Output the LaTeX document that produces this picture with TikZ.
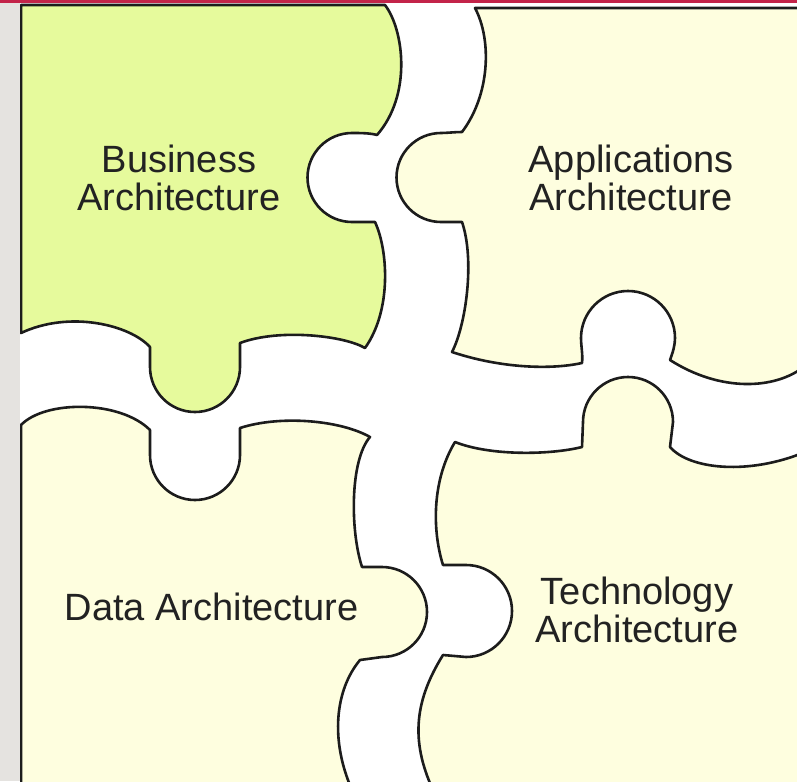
\documentclass[tikz,border=0pt]{standalone}
\usepackage{fontspec}
\setmainfont{Liberation Sans}
\definecolor{bizgreen}{HTML}{E6FA9C}
\definecolor{cream}{HTML}{FEFEDF}
\definecolor{stripgrey}{HTML}{E5E3E0}
\definecolor{topred}{HTML}{C32349}
\definecolor{edgecol}{HTML}{1C1C1C}
\definecolor{textgrey}{HTML}{222222}
\begin{document}
\begin{tikzpicture}[x=1pt,y=1pt,yscale=-1,
  piece/.style={draw=edgecol, line width=2.6pt, line join=round},
  piecetext/.style={font=\fontsize{38}{38}\selectfont, text=textgrey, align=center, inner sep=0pt}]
\useasboundingbox (0,0) rectangle (797,781);
\fill[white] (0,0) rectangle (797,781);
\fill[stripgrey] (0,0) rectangle (20,781);
\begin{scope}
\clip (20,3) rectangle (797,781);
% Business
\path[piece, fill=bizgreen] (21,5) -- (385,5)
 .. controls (404,30) and (412,95) .. (377,135)
 .. controls (370,133) and (360,133) .. (352,133)
 arc[start angle=270, end angle=90, radius=44.5]
 .. controls (360,222) and (368,222) .. (375,222)
 .. controls (388,250) and (392,310) .. (365,348)
 .. controls (345,336) and (280,328) .. (240,343)
 -- (240,367) arc[start angle=0, end angle=180, radius=45]
 -- (150,347)
 .. controls (130,325) and (70,310) .. (21,333) -- cycle;
% Applications
\path[piece, fill=cream] (475,8) -- (805,8) -- (805,366)
 .. controls (775,390) and (720,392) .. (670,360)
 .. controls (673,352) and (675,345) .. (675,338)
 arc[start angle=0, end angle=-180, radius=47]
 .. controls (581,346) and (583,355) .. (582,363)
 .. controls (550,370) and (500,368) .. (452,352)
 .. controls (466,325) and (475,260) .. (462,222)
 .. controls (455,222) and (447,222) .. (441,222)
 arc[start angle=90, end angle=270, radius=44.5]
 .. controls (447,133) and (455,132) .. (462,132)
 .. controls (490,95) and (492,40) .. (475,8) -- cycle;
% Data
\path[piece, fill=cream] (21,425)
 .. controls (45,400) and (120,400) .. (150,430)
 -- (150,455) arc[start angle=180, end angle=0, radius=45]
 -- (240,428)
 .. controls (280,415) and (340,420) .. (370,437)
 .. controls (350,460) and (350,530) .. (362,567)
 -- (382,567) arc[start angle=270, end angle=450, radius=45]
 -- (360,660)
 .. controls (335,690) and (330,740) .. (352,790)
 -- (21,790) -- cycle;
% Technology
\path[piece, fill=cream] (455,442)
 .. controls (490,456) and (550,455) .. (582,447)
 -- (583,422) arc[start angle=180, end angle=360, radius=45]
 -- (670,447)
 .. controls (690,470) and (750,475) .. (805,452)
 -- (805,790) -- (433,790)
 .. controls (410,740) and (415,700) .. (443,655)
 -- (466,657) arc[start angle=90, end angle=-90, radius=46]
 -- (443,565)
 .. controls (432,530) and (432,480) .. (455,442) -- cycle;
\end{scope}
\fill[topred] (0,0) rectangle (797,3.5);
\node[piecetext, anchor=base] (biz) at (179,210) {Business\\Architecture};
\node[piecetext, anchor=base] (app) at (631,210) {Applications\\Architecture};
\node[piecetext, anchor=base] (dat) at (211.5,620) {Data Architecture};
\node[piecetext, anchor=base] (tec) at (637,642) {Technology\\Architecture};
\end{tikzpicture}
\end{document}
